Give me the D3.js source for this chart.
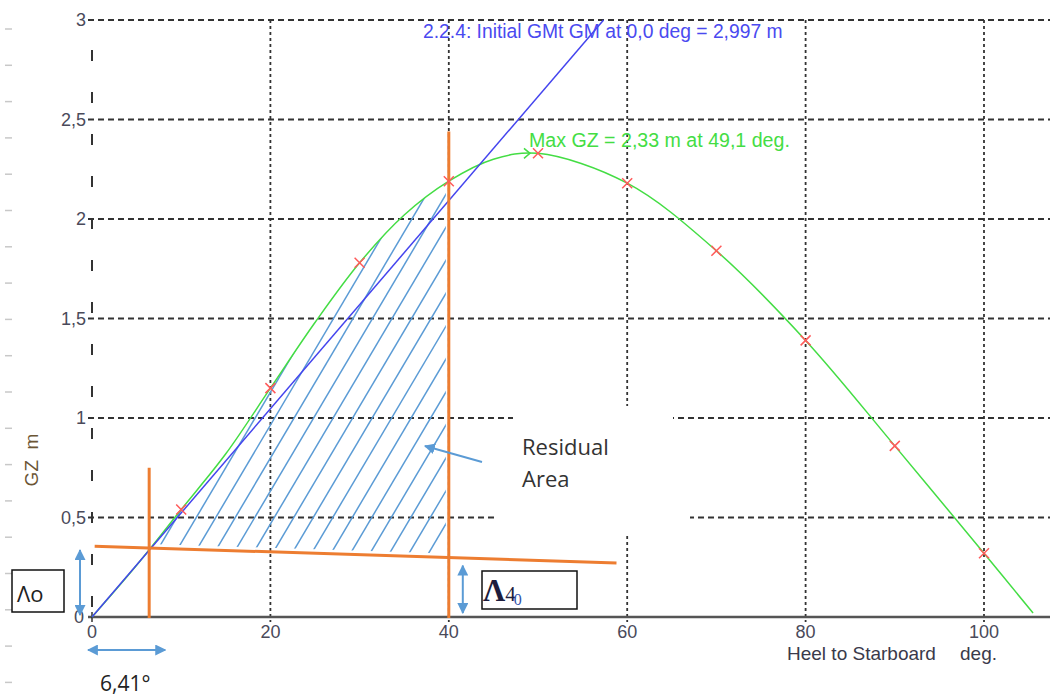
<!DOCTYPE html>
<html>
<head>
<meta charset="utf-8">
<script src="https://cdn.jsdelivr.net/npm/d3@7"></script>
<style>
    body { margin: 0; background: #fff; }
    svg { display: block; font-family: "Liberation Sans", Arial, sans-serif; }
</style>
</head>
<body>
<svg id="chart" width="1050" height="697"></svg>
<script>
// GZ curve (heel in deg, GZ in m)
const heelDeg = [0, 5, 10, 15, 20, 25, 30, 35, 40, 45, 50, 60, 70, 80, 90, 100, 105.5]
const gzValues = [0, 0.26, 0.54, 0.82, 1.15, 1.48, 1.78, 2.02, 2.19, 2.30, 2.33, 2.18, 1.84, 1.39, 0.86, 0.32, 0.02]
const markerDeg = [10, 20, 30, 40, 50, 60, 70, 80, 90, 100]
const xTicks = [0, 20, 40, 60, 80, 100]
const yTicks = [0, 0.5, 1, 1.5, 2, 2.5, 3]

const initialGM = 2.997
const maxGZ = {deg: 49.1, gz: 2.33}
const heelArmDeg = [0.3, 58.8]
const heelArmGZ = [0.356, 0.271]
const angleEquilibrium = 6.41
const angleLimit = 40
const guideTopGZ = [0.75, 2.44]

const gmLabel = '2.2.4: Initial GMt GM at 0,0 deg = 2,997 m'
const maxLabel = 'Max GZ = 2,33 m at 49,1 deg.'

const svg = d3.select('#chart')
const x = d3.scaleLinear().domain([0, 100]).range([92, 984])
const y = d3.scaleLinear().domain([0, 3]).range([617, 20])
const fmt = d => String(d).replace('.', ',')

const blue = '#5b9bd5', orange = '#ed7d31'

// arrow heads
const defs = svg.append('defs')
defs.append('marker')
    .attr('id', 'head')
    .attr('markerUnits', 'userSpaceOnUse')
    .attr('viewBox', '0 0 10 10')
    .attr('refX', 9).attr('refY', 5)
    .attr('markerWidth', 11).attr('markerHeight', 11)
    .attr('orient', 'auto-start-reverse')
    .append('path')
    .attr('d', 'M0,0L10,5L0,10Z')
    .attr('fill', blue)

// ruler dashes on the far left
svg.append('g').selectAll('line')
    .data(d3.range(19))
    .join('line')
    .attr('x1', 5).attr('x2', 12)
    .attr('y1', i => 29 + i * 36.3).attr('y2', i => 29 + i * 36.3)
    .attr('stroke', '#c8c8c8').attr('stroke-width', 1.5)

// grid
svg.append('g').selectAll('line')
    .data(yTicks.filter(d => d > 0))
    .join('line')
    .attr('x1', x(0) - 4).attr('x2', 1050)
    .attr('y1', d => y(d)).attr('y2', d => y(d))
    .attr('stroke', '#333').attr('stroke-width', 1.8)
    .attr('stroke-dasharray', '6,4')

svg.append('g').selectAll('line')
    .data(xTicks.filter(d => d > 0))
    .join('line')
    .attr('x1', d => x(d)).attr('x2', d => x(d))
    .attr('y1', y(3)).attr('y2', y(0) + 5)
    .attr('stroke', '#333').attr('stroke-width', 1.8)
    .attr('stroke-dasharray', '3,3')

// white patch behind the "Residual Area" note
svg.append('rect').attr('x', 513).attr('y', 406).attr('width', 160).attr('height', 30).attr('fill', '#fff')
svg.append('rect').attr('x', 497).attr('y', 430).attr('width', 193).attr('height', 105).attr('fill', '#fff')

// axes
svg.append('line')
    .attr('x1', x(0)).attr('x2', x(0))
    .attr('y1', y(3)).attr('y2', y(0))
    .attr('stroke', '#333').attr('stroke-width', 2)
    .attr('stroke-dasharray', '11,31').attr('stroke-dashoffset', 12)

svg.append('line')
    .attr('x1', x(0) - 4).attr('x2', 1050)
    .attr('y1', y(0)).attr('y2', y(0))
    .attr('stroke', '#555').attr('stroke-width', 2.5)

svg.append('line')
    .attr('x1', x(0)).attr('x2', x(0))
    .attr('y1', y(0) - 5).attr('y2', y(0) + 5)
    .attr('stroke', '#333').attr('stroke-width', 1.5)

svg.append('g').selectAll('text')
    .data(xTicks)
    .join('text')
    .attr('x', d => x(d)).attr('y', 638)
    .attr('text-anchor', 'middle')
    .attr('font-size', 18).attr('fill', '#4a4a5a')
    .text(d => d)

svg.append('g').selectAll('text')
    .data(yTicks)
    .join('text')
    .attr('x', d => d === 0 ? 84 : 86).attr('y', d => y(d) + 6)
    .attr('text-anchor', 'end')
    .attr('font-size', 18).attr('fill', '#4a4a5a')
    .text(fmt)

svg.append('text')
    .attr('transform', 'translate(38,460) rotate(-90)')
    .attr('text-anchor', 'middle')
    .attr('font-size', 19).attr('fill', '#6b5535')
    .attr('xml:space', 'preserve')
    .text('GZ  m')

svg.append('text')
    .attr('x', 787).attr('y', 660)
    .attr('font-size', 19).attr('fill', '#3a3a4a')
    .text('Heel to Starboard')
svg.append('text')
    .attr('x', 960).attr('y', 660)
    .attr('font-size', 19).attr('fill', '#3a3a4a')
    .text('deg.')

// GZ curve
const pts = heelDeg.map((d, i) => [d, gzValues[i]])
const curveLine = d3.line()
    .x(d => x(d[0])).y(d => y(d[1]))
    .curve(d3.curveCatmullRom)

// hatched residual area, clipped three ways
const underCurve = d3.area()
    .x(d => x(d[0])).y0(y(0)).y1(d => y(d[1]))
    .curve(d3.curveCatmullRom)
defs.append('clipPath').attr('id', 'clipCurve')
    .append('path').attr('d', underCurve(pts))
defs.append('clipPath').attr('id', 'clipSpan')
    .append('rect')
    .attr('x', x(angleEquilibrium)).attr('y', 0)
    .attr('width', x(angleLimit) - x(angleEquilibrium) - 3).attr('height', 697)
const heelAt = d => heelArmGZ[0] + (heelArmGZ[1] - heelArmGZ[0]) * (d - heelArmDeg[0]) / (heelArmDeg[1] - heelArmDeg[0])
defs.append('clipPath').attr('id', 'clipHeel')
    .append('path')
    .attr('d', `M${x(0)},0L${x(0)},${y(heelAt(0)) - 4}L${x(60)},${y(heelAt(60)) - 4}L${x(60)},0Z`)

const hatch = svg.append('g').attr('clip-path', 'url(#clipSpan)')
    .append('g').attr('clip-path', 'url(#clipHeel)')
    .append('g').attr('clip-path', 'url(#clipCurve)')
hatch.selectAll('line')
    .data(d3.range(-10, 30))
    .join('line')
    .attr('x1', k => 135.6 + k * 19.5).attr('y1', 620)
    .attr('x2', k => 135.6 + k * 19.5 + 500 / 1.69).attr('y2', 120)
    .attr('stroke', blue).attr('stroke-width', 1.5)

svg.append('path')
    .attr('d', curveLine(pts))
    .attr('fill', 'none')
    .attr('stroke', '#44dd44').attr('stroke-width', 1.5)

// initial GM line, slope GM per radian
const gmEnd = 3 / initialGM * 180 / Math.PI
svg.append('line')
    .attr('x1', x(0)).attr('y1', y(0))
    .attr('x2', x(gmEnd)).attr('y2', y(3))
    .attr('stroke', '#4444ee').attr('stroke-width', 1.5)

// heeling arm and angle guides
svg.append('line')
    .attr('x1', x(heelArmDeg[0])).attr('y1', y(heelArmGZ[0]))
    .attr('x2', x(heelArmDeg[1])).attr('y2', y(heelArmGZ[1]))
    .attr('stroke', orange).attr('stroke-width', 3)

svg.append('g').selectAll('line')
    .data([angleEquilibrium, angleLimit])
    .join('line')
    .attr('x1', d => x(d)).attr('x2', d => x(d))
    .attr('y1', (d, i) => y(guideTopGZ[i])).attr('y2', y(0) + 1)
    .attr('stroke', orange).attr('stroke-width', 3)

// point markers
const gzAt = d => gzValues[heelDeg.indexOf(d)]
svg.append('g').selectAll('path')
    .data(markerDeg)
    .join('path')
    .attr('d', d => {
        const cx = x(d), cy = y(gzAt(d)), r = 5
        return `M${cx - r},${cy - r}L${cx + r},${cy + r}M${cx - r},${cy + r}L${cx + r},${cy - r}`
    })
    .attr('stroke', '#ff5a5a').attr('stroke-width', 1.5)

svg.append('path')
    .attr('d', `M${x(maxGZ.deg) - 6},${y(maxGZ.gz) - 5}L${x(maxGZ.deg)},${y(maxGZ.gz)}L${x(maxGZ.deg) - 6},${y(maxGZ.gz) + 5}`)
    .attr('fill', 'none').attr('stroke', '#44dd44').attr('stroke-width', 1.5)

// labels
svg.append('text')
    .attr('x', 423).attr('y', 38)
    .attr('font-size', 19.3).attr('fill', '#4a4af0')
    .text(gmLabel)

svg.append('text')
    .attr('x', 529).attr('y', 147)
    .attr('font-size', 19.6).attr('fill', '#44dd44')
    .text(maxLabel)

// annotations
const sans = '"Open Sans", sans-serif'
svg.append('text').attr('x', 522).attr('y', 455).attr('font-family', sans)
    .attr('font-size', 22).attr('fill', '#333').text('Residual')
svg.append('text').attr('x', 522).attr('y', 487).attr('font-family', sans)
    .attr('font-size', 22).attr('fill', '#333').text('Area')
svg.append('text').attr('x', 100).attr('y', 691).attr('font-family', sans)
    .attr('font-size', 21).attr('fill', '#222').text('6,41°')

svg.append('line')
    .attr('x1', 482).attr('y1', 462).attr('x2', 425).attr('y2', 446)
    .attr('stroke', blue).attr('stroke-width', 2)
    .attr('marker-end', 'url(#head)')

const arrow = (x1, y1, x2, y2) => svg.append('line')
    .attr('x1', x1).attr('y1', y1).attr('x2', x2).attr('y2', y2)
    .attr('stroke', blue).attr('stroke-width', 2)
    .attr('marker-start', 'url(#head)').attr('marker-end', 'url(#head)')
arrow(80, y(heelAt(0)) + 4, 80, y(0) - 2)
arrow(x(angleLimit) + 14, y(heelAt(angleLimit)) + 8, x(angleLimit) + 14, y(0) - 4)
arrow(x(0) - 4, 650, x(angleEquilibrium) + 16, 650)

// boxes
svg.append('rect').attr('x', 12).attr('y', 570).attr('width', 52).attr('height', 42)
    .attr('fill', '#fff').attr('stroke', '#111').attr('stroke-width', 1.5)
svg.append('text').attr('x', 17).attr('y', 602).attr('font-family', sans)
    .attr('font-size', 22).attr('fill', '#222').text('Λo')

svg.append('rect').attr('x', 482).attr('y', 571).attr('width', 95).attr('height', 38)
    .attr('fill', '#fff').attr('stroke', '#111').attr('stroke-width', 1.5)
const lam = svg.append('text').attr('x', 483).attr('y', 601)
    .attr('font-family', '"Liberation Serif", "Times New Roman", serif')
lam.append('tspan').attr('font-size', 31).attr('font-weight', 'bold').attr('fill', '#1d1d3d').text('Λ')
lam.append('tspan').attr('font-size', 21).attr('fill', '#202040').text('4')
lam.append('tspan').attr('font-size', 16).attr('dx', -2).attr('dy', 4).attr('fill', '#3355aa').text('0')
</script>
</body>
</html>
